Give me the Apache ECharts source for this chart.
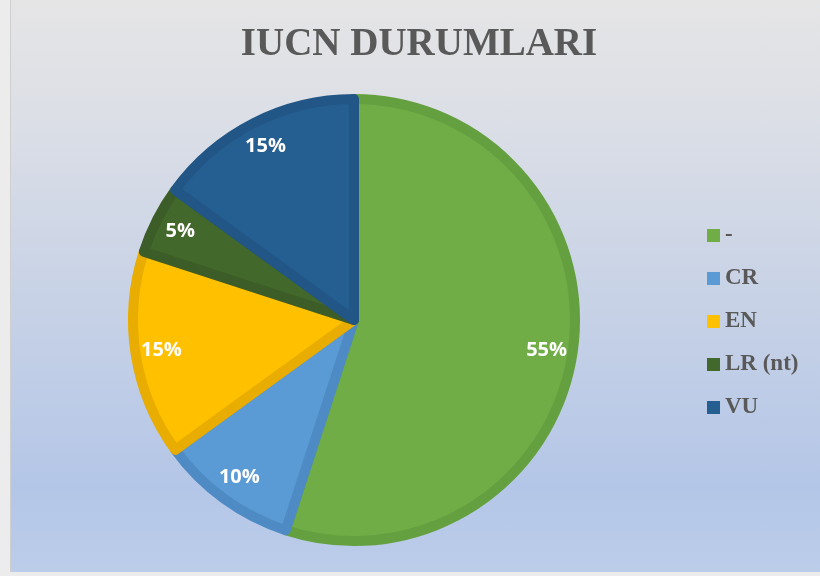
<!DOCTYPE html>
<html>
<head>
<meta charset="utf-8">
<script src="https://cdn.jsdelivr.net/npm/echarts@6/dist/echarts.min.js"></script>
<style>
  html, body { margin: 0; padding: 0; width: 820px; height: 576px; overflow: hidden; background: #ececec; }
  #frame { position: absolute; left: 10px; top: 0; width: 809px; height: 572px;
           border-left: 1px solid #cfcfcf;
           background: linear-gradient(to bottom, #e5e5e6 0%, #dcdfe6 20%, #c9d3e6 50%, #b4c6e7 85%, #bccdea 100%); }
  #chart { width: 809px; height: 572px; }
</style>
</head>
<body>
<div id="frame"><div id="chart"></div></div>
<script>
// IUCN status counts
const categories = ['-', 'CR', 'EN', 'LR (nt)', 'VU'];
const counts = [11, 2, 3, 1, 3];
const fillColors = ['#70ad47', '#5b9bd5', '#ffc000', '#43682b', '#255e91'];
const edgeColors = ['#64a03f', '#4e8bc4', '#e8ad00', '#3c5d27', '#215686'];

const pieData = categories.map((name, i) => ({
  name: name,
  value: counts[i],
  itemStyle: { color: fillColors[i], borderColor: edgeColors[i] }
}));

// transparent ring that carries the percentage labels further out
const labelData = categories.map((name, i) => ({ name: name, value: counts[i] }));

const chart = echarts.init(document.getElementById('chart'), null, { renderer: 'canvas' });
chart.setOption({
  backgroundColor: 'transparent',
  animation: false,
  title: {
    text: 'IUCN DURUMLARI',
    left: 403, top: 20, textAlign: 'center',
    textStyle: { fontFamily: 'Liberation Serif', fontWeight: 'bold', fontSize: 39, color: '#595959' }
  },
  legend: {
    orient: 'vertical',
    left: 696, top: 224, padding: 0,
    itemWidth: 13, itemHeight: 13, itemGap: 20,
    icon: 'rect',
    itemStyle: { borderWidth: 0 },
    data: categories,
    textStyle: { fontFamily: 'Liberation Serif', fontWeight: 'bold', fontSize: 23, color: '#595959', lineHeight: 23 }
  },
  series: [
    {
      type: 'pie',
      center: [343, 320],
      radius: [0, 221],
      startAngle: 90,
      clockwise: true,
      silent: true,
      data: pieData,
      itemStyle: { borderWidth: 10 },
      label: { show: false },
      labelLine: { show: false }
    },
    {
      type: 'pie',
      center: [343, 320],
      radius: [160, 224],
      startAngle: 90,
      clockwise: true,
      silent: true,
      legendHoverLink: false,
      data: labelData,
      itemStyle: { color: 'rgba(0,0,0,0)', borderWidth: 0 },
      label: {
        show: true, position: 'inside', formatter: '{d}%',
        fontFamily: 'Open Sans', fontWeight: 'bold', fontSize: 20, color: '#ffffff'
      },
      labelLine: { show: false }
    }
  ]
});
</script>
</body>
</html>
